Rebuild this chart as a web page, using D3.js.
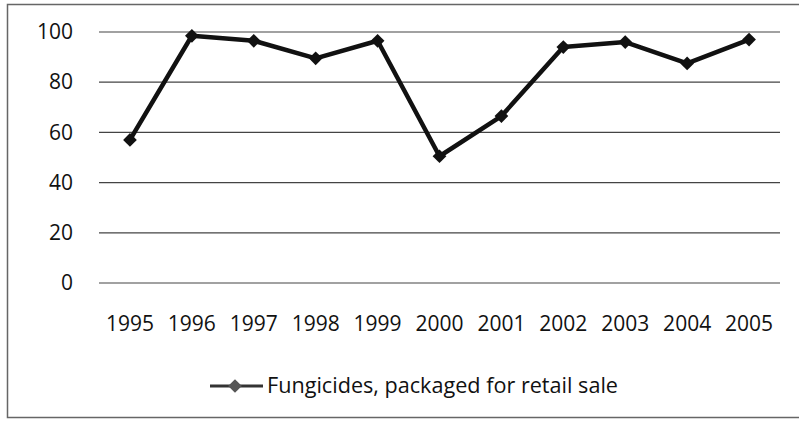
<!DOCTYPE html>
<html>
<head>
<meta charset="utf-8">
<script src="https://cdn.jsdelivr.net/npm/d3@7"></script>
<style>
  body { margin: 0; background: white; }
  text { font-family: "Open Sans", "Noto Sans", sans-serif; fill: #111; }
</style>
</head>
<body>
<div id="chart"></div>
<script>
const years = ["1995", "1996", "1997", "1998", "1999", "2000", "2001", "2002", "2003", "2004", "2005"]
const fungicides = [57, 98.5, 96.5, 89.5, 96.5, 50.5, 66.5, 94, 96, 87.5, 97]
const yTicks = [0, 20, 40, 60, 80, 100]
const seriesName = "Fungicides, packaged for retail sale"

const anchoTotal = 799
const altoTotal = 422
const margins = { top: 32, right: 19, bottom: 139, left: 99 }
const ancho = anchoTotal - margins.left - margins.right
const alto = altoTotal - margins.top - margins.bottom

const svg = d3.select("#chart")
  .append("svg")
  .attr("width", anchoTotal)
  .attr("height", altoTotal)

// marco del grafico
svg.append("rect")
  .attr("x", 7.5)
  .attr("y", 4.5)
  .attr("width", 800)
  .attr("height", 413)
  .attr("fill", "none")
  .attr("stroke", "#666")
  .attr("stroke-width", 1.5)

const g = svg.append("g")
  .attr("transform", `translate(${margins.left}, ${margins.top})`)

const x = d3.scaleBand()
  .domain(years)
  .range([0, ancho])

const y = d3.scaleLinear()
  .domain([0, 100])
  .range([alto, 0])

// lineas de cuadricula
g.selectAll("line.grid")
  .data(yTicks)
  .enter()
  .append("line")
  .attr("class", "grid")
  .attr("x1", 0)
  .attr("x2", ancho)
  .attr("y1", (d) => y(d))
  .attr("y2", (d) => y(d))
  .attr("stroke", "#444")
  .attr("stroke-width", 1.2)

const yAxis = d3.axisLeft(y).tickValues(yTicks).tickSize(0).tickPadding(26)
const yAxisGroup = g.append("g").call(yAxis)
yAxisGroup.select(".domain").remove()
yAxisGroup.selectAll("text").attr("font-size", 21).attr("font-family", null)

const xAxis = d3.axisBottom(x).tickSize(0).tickPadding(33)
const xAxisGroup = g.append("g")
  .attr("transform", `translate(0, ${alto})`)
  .call(xAxis)
xAxisGroup.select(".domain").remove()
xAxisGroup.selectAll("text").attr("font-size", 21).attr("font-family", null)

const cx = (d, i) => x(years[i]) + x.bandwidth() / 2

const linea = d3.line()
  .x((d, i) => cx(d, i))
  .y((d) => y(d))

g.append("path")
  .datum(fungicides)
  .attr("d", linea)
  .attr("fill", "none")
  .attr("stroke", "#111")
  .attr("stroke-width", 4.5)
  .attr("stroke-linejoin", "round")

const diamante = d3.symbol().type(d3.symbolDiamond2).size(120)

g.selectAll("path.punto")
  .data(fungicides)
  .enter()
  .append("path")
  .attr("class", "punto")
  .attr("d", diamante)
  .attr("transform", (d, i) => `translate(${cx(d, i)}, ${y(d)})`)
  .attr("fill", "#111")

// leyenda
const leyenda = svg.append("g").attr("transform", "translate(210, 386)")
leyenda.append("line")
  .attr("x1", 0)
  .attr("x2", 53)
  .attr("stroke", "#333")
  .attr("stroke-width", 3)
leyenda.append("path")
  .attr("d", diamante)
  .attr("transform", "translate(25, 0)")
  .attr("fill", "#555")
leyenda.append("text")
  .attr("x", 57)
  .attr("y", 7)
  .attr("font-size", 21)
  .attr("textLength", 351)
  .attr("lengthAdjust", "spacingAndGlyphs")
  .text(seriesName)
</script>
</body>
</html>
